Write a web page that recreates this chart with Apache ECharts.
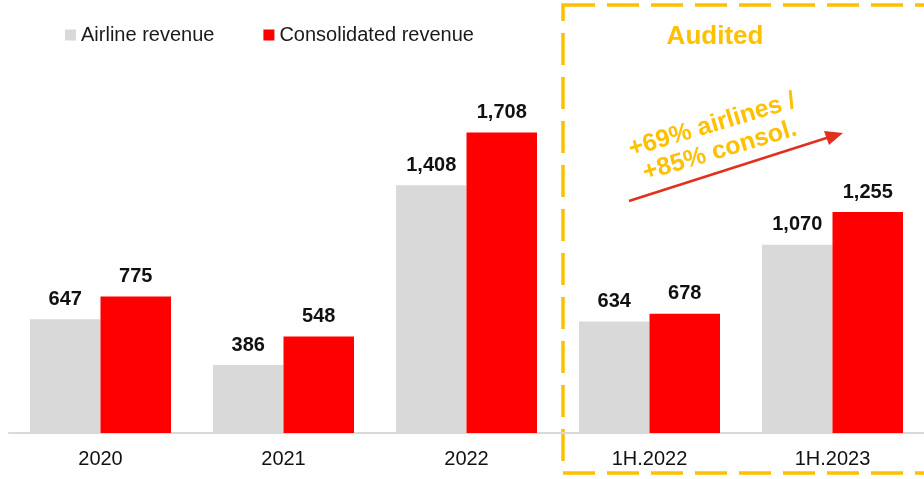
<!DOCTYPE html>
<html>
<head>
<meta charset="utf-8">
<script src="https://cdn.jsdelivr.net/npm/echarts@6/dist/echarts.min.js"></script>
<style>
  html, body { margin: 0; padding: 0; background: #fff; }
  #main { width: 924px; height: 479px; }
</style>
</head>
<body>
<div id="main"></div>
<script>
const periods = ['2020', '2021', '2022', '1H.2022', '1H.2023'];
const airlineRevenue = [647, 386, 1408, 634, 1070];
const consolidatedRevenue = [775, 548, 1708, 678, 1255];

const gold = '#FFC000';
const fontFamily = '"Liberation Sans", Arial, sans-serif';

const chart = echarts.init(document.getElementById('main'));

const label = {
    show: true,
    position: 'top',
    distance: 10,
    color: '#111',
    fontSize: 20,
    fontWeight: 'bold',
    fontFamily: fontFamily,
    formatter: p => p.value.toLocaleString('en-US')
};

const option = {
    animation: false,
    backgroundColor: '#fff',
    legend: {
        left: 65,
        top: 25,
        padding: 0,
        itemWidth: 11,
        itemHeight: 11,
        itemGap: 49,
        icon: 'rect',
        textStyle: { color: '#1a1a1a', fontSize: 20, fontFamily: fontFamily },
        data: ['Airline revenue', 'Consolidated revenue']
    },
    grid: { left: 9, width: 920, top: 81, bottom: 46 },
    xAxis: {
        type: 'category',
        data: periods,
        axisLine: { lineStyle: { color: '#d9d9d9', width: 2 } },
        axisTick: { show: false },
        axisLabel: { color: '#111', fontSize: 20, fontFamily: fontFamily, margin: 16 }
    },
    yAxis: {
        type: 'value',
        min: 0,
        max: 2000,
        show: false,
        splitLine: { show: false }
    },
    series: [{
        name: 'Airline revenue',
        type: 'bar',
        data: airlineRevenue,
        barWidth: 70.5,
        barGap: '0%',
        itemStyle: { color: '#d9d9d9' },
        label: label
    }, {
        name: 'Consolidated revenue',
        type: 'bar',
        data: consolidatedRevenue,
        barWidth: 70.5,
        barGap: '0%',
        itemStyle: { color: '#ff0000' },
        label: label
    }],
    graphic: [
        {
            type: 'rect',
            shape: { x: 563, y: 5, width: 420, height: 468 },
            style: { fill: 'none', stroke: gold, lineWidth: 3.5, lineDash: [32, 12] },
            silent: true
        },
        {
            type: 'text',
            x: 715, y: 37,
            style: {
                text: 'Audited', fill: gold, align: 'center', verticalAlign: 'middle',
                font: 'bold 26px ' + fontFamily
            }
        },
        {
            type: 'line',
            shape: { x1: 629, y1: 201, x2: 828, y2: 137.5 },
            style: { stroke: '#e0301e', lineWidth: 2.5 }
        },
        {
            type: 'polygon',
            shape: { points: [[843, 133], [824, 131], [829, 145]] },
            style: { fill: '#e0301e' }
        },
        {
            type: 'text',
            x: 716, y: 138,
            rotation: 0.29,
            style: {
                text: '+69% airlines /\n+85% consol.', fill: gold, align: 'center', verticalAlign: 'middle',
                font: 'bold 25px ' + fontFamily, lineHeight: 27
            }
        }
    ]
};

chart.setOption(option);
window.addEventListener('resize', () => chart.resize());
</script>
</body>
</html>
